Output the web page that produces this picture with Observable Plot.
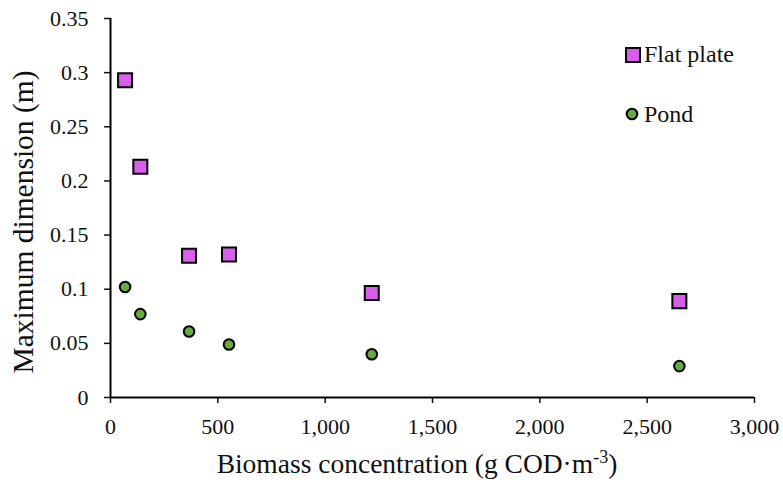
<!DOCTYPE html>
<html><head><meta charset="utf-8">
<script src="https://cdn.jsdelivr.net/npm/d3@7"></script>
<script src="https://cdn.jsdelivr.net/npm/@observablehq/plot@0.6"></script>
<style>
body{margin:0;background:#fff;}
#wrap{position:relative;width:783px;height:487px;font-family:"Liberation Serif","Times New Roman",serif;}
</style></head><body>
<div id="wrap"></div>
<script>
const concentration = [68, 139, 366, 552, 1217, 2650];
const flatPlate = [0.293, 0.213, 0.131, 0.132, 0.0966, 0.089];
const pond = [0.102, 0.077, 0.061, 0.049, 0.040, 0.029];
const xTicks = [0, 500, 1000, 1500, 2000, 2500, 3000];
const yTicks = [0, 0.05, 0.1, 0.15, 0.2, 0.25, 0.3, 0.35];
const seriesNames = ["Flat plate", "Pond"];

const flatData = concentration.map((x, i) => ({x, y: flatPlate[i]}));
const pondData = concentration.map((x, i) => ({x, y: pond[i]}));

const FLAT = "#d75fea", POND = "#6aaa3c";
const W = 783, H = 487;
const plot = Plot.plot({
  width: W, height: H,
  marginLeft: 110, marginRight: 29, marginTop: 18, marginBottom: 90,
  style: {fontFamily: '"Liberation Serif","Times New Roman",serif', fontSize: "22px", color: "#111", background: "#fff"},
  x: {domain: [0, 3000]},
  y: {domain: [0, 0.35]},
  marks: [
    Plot.axisX({ticks: xTicks, tickFormat: d3.format(","), tickSize: 6, tickPadding: 15, strokeWidth: 1.5, label: null}),
    Plot.axisY({ticks: yTicks, tickFormat: d => String(+d.toFixed(2)), tickSize: 6, tickPadding: 16, strokeWidth: 1.5, label: null}),
    Plot.ruleX([0], {stroke: "#000", strokeWidth: 2}),
    Plot.ruleY([0], {stroke: "#000", strokeWidth: 2}),
    Plot.dot(pondData, {x: "x", y: "y", r: 5.3, fill: POND, stroke: "#000", strokeWidth: 2}),
    Plot.dot(flatData, {x: "x", y: "y", symbol: "square", r: 7.9, fill: FLAT, stroke: "#000", strokeWidth: 2})
  ]
});
const wrap = document.getElementById("wrap");
wrap.appendChild(plot);
const svg = d3.select(plot);
const fam = '"Liberation Serif","Times New Roman",serif';
const xl = svg.append("text").attr("x", 417).attr("y", 473).attr("text-anchor", "middle")
  .attr("font-family", fam).attr("font-size", 27.5).attr("fill", "#111");
xl.append("tspan").text("Biomass concentration (g COD·m");
xl.append("tspan").attr("dy", -10).attr("font-size", 18).text("-3");
xl.append("tspan").attr("dy", 10).text(")");
svg.append("text").attr("transform", "translate(33,222) rotate(-90)").attr("text-anchor", "middle")
  .attr("font-family", fam).attr("font-size", 29.5).attr("fill", "#111").text("Maximum dimension (m)");

// legend
const lg = svg.append("g").attr("font-family", fam).attr("font-size", 24).attr("fill", "#111").attr("text-anchor", "start");
lg.append("rect").attr("x", 626).attr("y", 48).attr("width", 14).attr("height", 14)
  .attr("fill", FLAT).attr("stroke", "#000").attr("stroke-width", 2);
lg.append("text").attr("x", 644).attr("y", 62).text(seriesNames[0]);
lg.append("circle").attr("cx", 632).attr("cy", 114).attr("r", 5.3)
  .attr("fill", POND).attr("stroke", "#000").attr("stroke-width", 2);
lg.append("text").attr("x", 644).attr("y", 122).text(seriesNames[1]);
</script>
</body></html>
